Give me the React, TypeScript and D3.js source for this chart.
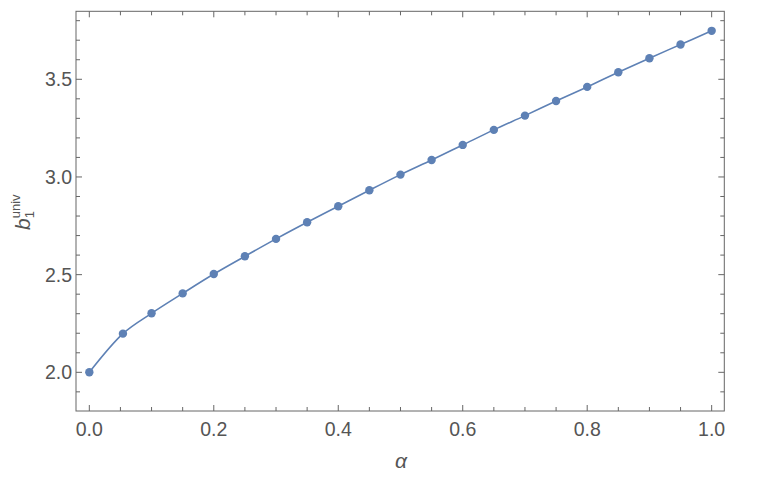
import React, { useEffect, useRef } from "react";
import * as d3 from "d3";

const alphaValues = [0, 0.054, 0.1, 0.15, 0.2, 0.25, 0.3, 0.35, 0.4, 0.45, 0.5, 0.55, 0.6, 0.65, 0.7, 0.75, 0.8, 0.85, 0.9, 0.95, 1.0];
const b1Values = [2.0, 2.198, 2.302, 2.404, 2.503, 2.594, 2.683, 2.768, 2.85, 2.932, 3.012, 3.087, 3.164, 3.241, 3.314, 3.389, 3.461, 3.536, 3.608, 3.678, 3.748];

const xMajor = [0, 0.2, 0.4, 0.6, 0.8, 1.0];
const xMinor = [0.05, 0.1, 0.15, 0.25, 0.3, 0.35, 0.45, 0.5, 0.55, 0.65, 0.7, 0.75, 0.85, 0.9, 0.95];
const yMajor = [2.0, 2.5, 3.0, 3.5];
const yMinor = [1.9, 2.1, 2.2, 2.3, 2.4, 2.6, 2.7, 2.8, 2.9, 3.1, 3.2, 3.3, 3.4, 3.6, 3.7, 3.8];

const App = () => {
  const ref = useRef<SVGSVGElement>(null);

  useEffect(() => {
    const svg = d3.select(ref.current);
    svg.selectAll("*").remove();

    const left = 76, right = 724.3, top = 11.3, bottom = 411;
    const blue = "#5e81b5";
    const frame = "#666";
    const labelColor = "#555";
    const font = "'Liberation Sans', Arial, sans-serif";

    const x = d3.scaleLinear().domain([-0.0214, 1.0203]).range([left, right]);
    const y = d3.scaleLinear().domain([1.802, 3.848]).range([bottom, top]);

    const data = alphaValues.map((a, i) => ({ a, b: b1Values[i] }));

    // curve + points
    const line = d3.line<{ a: number; b: number }>()
      .x((d) => x(d.a))
      .y((d) => y(d.b))
      .curve(d3.curveMonotoneX);

    svg.append("path")
      .datum(data)
      .attr("fill", "none")
      .attr("stroke", blue)
      .attr("stroke-width", 1.6)
      .attr("d", line);

    svg.append("g")
      .selectAll("circle")
      .data(data)
      .join("circle")
      .attr("cx", (d) => x(d.a))
      .attr("cy", (d) => y(d.b))
      .attr("r", 4.2)
      .attr("fill", blue);

    // frame
    svg.append("rect")
      .attr("x", left)
      .attr("y", top)
      .attr("width", right - left)
      .attr("height", bottom - top)
      .attr("fill", "none")
      .attr("stroke", frame)
      .attr("stroke-width", 1);

    const ticks = svg.append("g").attr("stroke", frame).attr("stroke-width", 1);
    const xTick = (v: number, len: number) => {
      ticks.append("line").attr("x1", x(v)).attr("x2", x(v)).attr("y1", bottom).attr("y2", bottom - len);
      ticks.append("line").attr("x1", x(v)).attr("x2", x(v)).attr("y1", top).attr("y2", top + len);
    };
    const yTick = (v: number, len: number) => {
      ticks.append("line").attr("y1", y(v)).attr("y2", y(v)).attr("x1", left).attr("x2", left + len);
      ticks.append("line").attr("y1", y(v)).attr("y2", y(v)).attr("x1", right).attr("x2", right - len);
    };
    xMajor.forEach((v) => xTick(v, 6));
    xMinor.forEach((v) => xTick(v, 4));
    yMajor.forEach((v) => yTick(v, 6));
    yMinor.forEach((v) => yTick(v, 4));

    // tick labels
    svg.append("g")
      .selectAll("text")
      .data(xMajor)
      .join("text")
      .attr("x", (d) => x(d))
      .attr("y", 428.5)
      .attr("text-anchor", "middle")
      .attr("dominant-baseline", "central")
      .attr("font-family", font)
      .attr("font-size", 19.5)
      .attr("fill", labelColor)
      .text((d) => d3.format(".1f")(d));

    svg.append("g")
      .selectAll("text")
      .data(yMajor)
      .join("text")
      .attr("x", 72)
      .attr("y", (d) => y(d))
      .attr("text-anchor", "end")
      .attr("dominant-baseline", "central")
      .attr("font-family", font)
      .attr("font-size", 19.5)
      .attr("fill", labelColor)
      .text((d) => d3.format(".1f")(d));

    // axis titles
    svg.append("text")
      .attr("x", 401)
      .attr("y", 468)
      .attr("text-anchor", "middle")
      .attr("font-family", font)
      .attr("font-style", "italic")
      .attr("font-size", 21)
      .attr("fill", labelColor)
      .text("α");

    const yt = svg.append("text")
      .attr("transform", "translate(30,230) rotate(-90)")
      .attr("font-family", font)
      .attr("fill", labelColor);
    yt.append("tspan").attr("font-style", "italic").attr("font-size", 21).text("b");
    yt.append("tspan").attr("font-size", 13).attr("dy", 4).text("1");
    yt.append("tspan").attr("font-size", 13).attr("dx", -7.2).attr("dy", -14).text("univ");
  }, []);

  return (
    <svg
      ref={ref}
      width={781}
      height={482}
      style={{ position: "absolute", left: 0, top: 0, background: "#fff" }}
    />
  );
};

export default App;
